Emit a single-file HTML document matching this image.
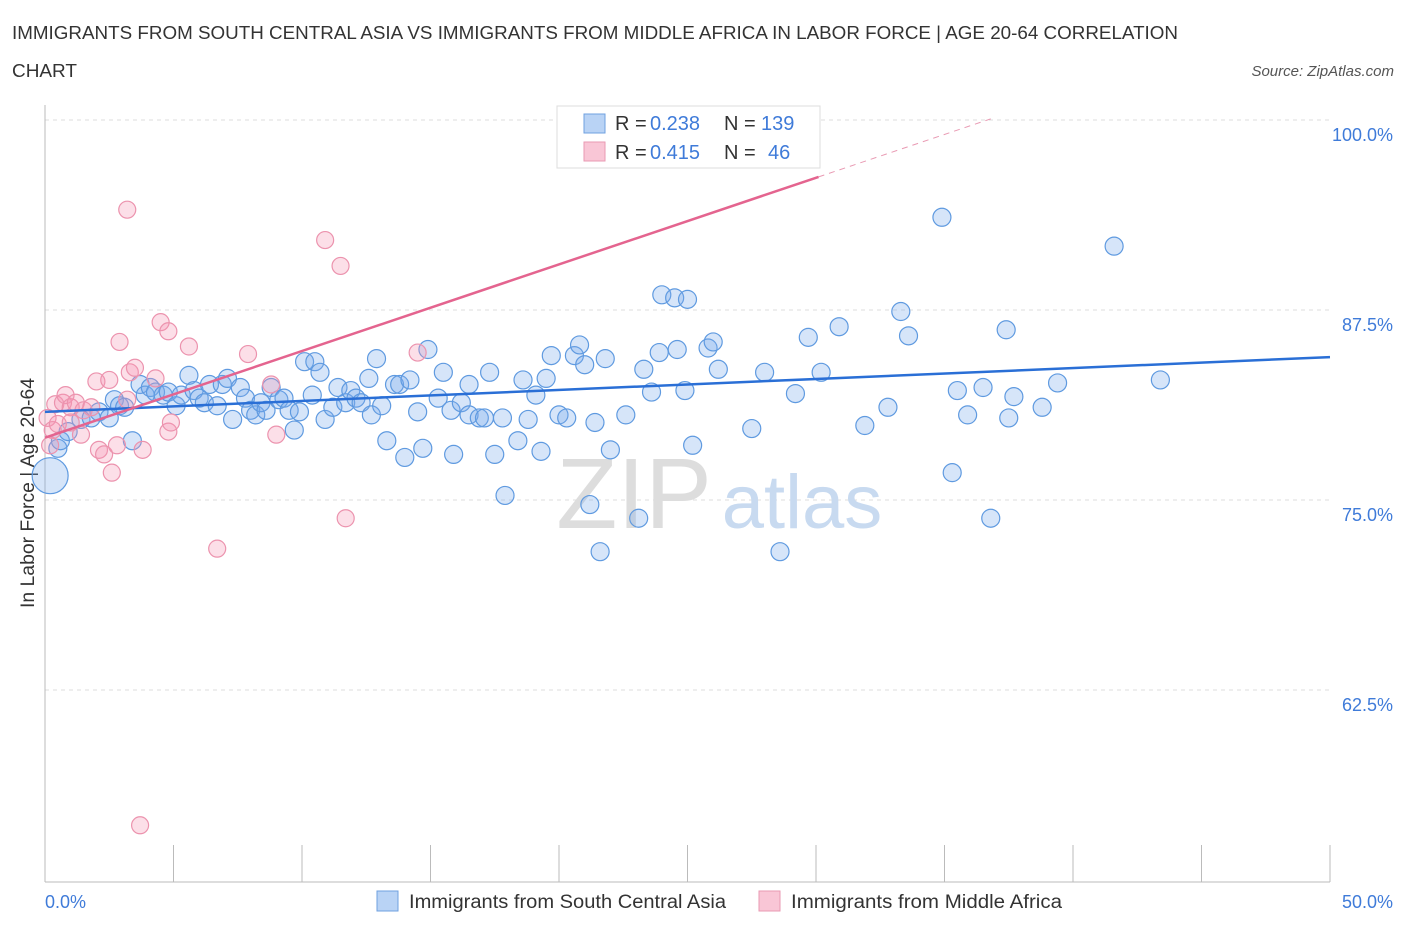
<!DOCTYPE html>
<html><head><meta charset="utf-8"><style>
body{margin:0;background:#fff;font-family:"Liberation Sans",sans-serif;}
svg text{font-family:"Liberation Sans",sans-serif;}
</style></head><body>
<svg id="chart" width="1406" height="930" xmlns="http://www.w3.org/2000/svg">
<text x="12" y="39" font-size="18" fill="#333" textLength="1166" lengthAdjust="spacingAndGlyphs">IMMIGRANTS FROM SOUTH CENTRAL ASIA VS IMMIGRANTS FROM MIDDLE AFRICA IN LABOR FORCE | AGE 20-64 CORRELATION</text>
<text x="12" y="77" font-size="18" fill="#333" textLength="65" lengthAdjust="spacingAndGlyphs">CHART</text>
<text x="1394" y="76" font-size="15" fill="#555" font-style="italic" text-anchor="end">Source: ZipAtlas.com</text>
<text x="34" y="493" font-size="19" fill="#333" text-anchor="middle" transform="rotate(-90 34 493)" textLength="230" lengthAdjust="spacingAndGlyphs">In Labor Force | Age 20-64</text>
<g id="grid"></g>
<g><text x="634" y="528" font-size="100" fill="#ddd" font-family="Liberation Serif" text-anchor="middle">ZIP</text><text x="802" y="528" font-size="76" fill="#c8daf0" text-anchor="middle">atlas</text></g>
<g id="marks"></g>
<g>
<rect x="557" y="106" width="263" height="62" fill="#fff" stroke="#ddd"/>
<rect x="584" y="114" width="21" height="19" fill="#b9d3f5" stroke="#6fa0e0"/>
<rect x="584" y="142" width="21" height="19" fill="#f9c6d6" stroke="#e99ab3"/>
<text x="615" y="130" font-size="20" fill="#333">R =</text><text x="650" y="130" font-size="20" fill="#3f7bd9">0.238</text>
<text x="724" y="130" font-size="20" fill="#333">N =</text><text x="761" y="130" font-size="20" fill="#3f7bd9">139</text>
<text x="615" y="159" font-size="20" fill="#333">R =</text><text x="650" y="159" font-size="20" fill="#3f7bd9">0.415</text>
<text x="724" y="159" font-size="20" fill="#333">N =</text><text x="768" y="159" font-size="20" fill="#3f7bd9">46</text>
</g>
<g>
<rect x="377" y="891" width="21" height="20" fill="#b9d3f5" stroke="#6fa0e0"/>
<text x="409" y="908" font-size="19" fill="#333" textLength="317" lengthAdjust="spacingAndGlyphs">Immigrants from South Central Asia</text>
<rect x="759" y="891" width="21" height="20" fill="#f9c6d6" stroke="#e99ab3"/>
<text x="791" y="908" font-size="19" fill="#333" textLength="271" lengthAdjust="spacingAndGlyphs">Immigrants from Middle Africa</text>
</g>
</svg>
<script>
const yTicks=[100,87.5,75,62.5];
const yTickLabels=["100.0%","87.5%","75.0%","62.5%"];
const xTickLabels=["0.0%","50.0%"];
const blueX=[0.2,0.5,0.6,0.9,1.4,1.8,2.1,2.5,2.7,2.9,3.1,3.4,3.7,3.9,4.1,4.3,4.6,4.8,5.1,5.3,5.6,5.8,6.0,6.2,6.4,6.7,6.9,7.1,7.3,7.6,7.8,8.0,8.2,8.4,8.6,8.8,9.1,9.3,9.5,9.7,9.9,10.1,10.4,10.5,10.7,10.9,11.2,11.4,11.7,11.9,12.1,12.3,12.6,12.7,12.9,13.1,13.3,13.6,13.8,14.0,14.2,14.5,14.7,14.9,15.3,15.5,15.8,15.9,16.2,16.5,16.5,16.9,17.1,17.3,17.5,17.8,17.9,18.4,18.6,18.8,19.1,19.3,19.5,19.7,20.0,20.3,20.6,20.8,21.0,21.2,21.4,21.6,21.8,22.0,22.6,23.1,23.3,23.6,23.9,24.0,24.5,24.6,24.9,25.0,25.2,25.8,26.0,26.2,27.5,28.0,28.6,29.2,29.7,30.2,30.9,31.9,32.8,33.3,33.6,34.9,35.3,35.5,35.9,36.5,36.8,37.4,37.5,37.7,38.8,39.4,41.6,43.4,29.5];
const blueY=[76.6,78.4,78.9,79.5,80.3,80.4,80.8,80.4,81.6,81.2,81.1,78.9,82.6,81.9,82.4,82.1,81.9,82.1,81.2,81.9,83.2,82.2,81.7,81.4,82.6,81.2,82.6,83.0,80.3,82.4,81.7,80.9,80.6,81.4,80.9,82.4,81.6,81.7,80.9,79.6,80.8,84.1,81.9,84.1,83.4,80.3,81.1,82.4,81.4,82.2,81.7,81.4,83.0,80.6,84.3,81.2,78.9,82.6,82.6,77.8,82.9,80.8,78.4,84.9,81.7,83.4,80.9,78.0,81.4,82.6,80.6,80.4,80.4,83.4,78.0,80.4,75.3,78.9,82.9,80.3,81.9,78.2,83.0,84.5,80.6,80.4,84.5,85.2,83.9,74.7,80.1,71.6,84.3,78.3,80.6,73.8,83.6,82.1,84.7,88.5,88.3,84.9,82.2,88.2,78.6,85.0,85.4,83.6,79.7,83.4,71.6,82.0,85.7,83.4,86.4,79.9,81.1,87.4,85.8,93.6,76.8,82.2,80.6,82.4,73.8,86.2,80.4,81.8,81.1,82.7,91.7,82.9,100.2];
const pinkX=[0.1,0.3,0.4,0.5,0.7,0.8,1.0,1.2,1.4,1.5,1.8,2.0,2.1,2.3,2.5,2.6,2.8,2.9,3.2,3.3,3.5,3.8,4.3,4.5,4.8,4.8,4.9,5.6,6.7,7.9,8.8,9.0,10.9,11.5,11.7,14.5,3.7,25.6,0.2,1.0,3.2];
const pinkY=[80.4,79.6,81.3,80.0,81.4,81.9,81.1,81.4,79.3,80.9,81.1,82.8,78.3,78.0,82.9,76.8,78.6,85.4,94.1,83.4,83.7,78.3,83.0,86.7,86.1,79.5,80.1,85.1,71.8,84.6,82.6,79.3,92.1,90.4,73.8,84.7,53.6,100.3,78.6,80.1,81.6];
const blueTrend=[80.8,84.4];
const pinkTrend=[79.1,0.57];
const NS="http://www.w3.org/2000/svg";
const X0=45,X1=1330,Y100=120,YSCALE=15.2;
function sx(v){return X0+v/50*(X1-X0);}
function sy(v){return Y100+(100-v)*YSCALE;}
function mk(t,a,p){const e=document.createElementNS(NS,t);for(const k in a)e.setAttribute(k,a[k]);p.appendChild(e);return e;}
const grid=document.getElementById('grid'),marks=document.getElementById('marks');
yTicks.forEach((t,i)=>{
 const l=mk('line',{x1:X0,x2:X1,y1:sy(t),y2:sy(t),stroke:'#ddd','stroke-dasharray':'4,4'},grid);
 
 
 const tx=mk('text',{x:1393,y:sy(t)+21,'font-size':18,fill:'#3f7bd9','text-anchor':'end'},grid);
 tx.textContent=yTickLabels[i];
 
 
});
const ax=mk('line',{x1:X0,x2:X0,y1:105,y2:882,stroke:'#bbb'},grid);


const bx=mk('line',{x1:X0,x2:X1,y1:882,y2:882,stroke:'#bbb'},grid);


for(let i=0;i<=10;i++){const x=X0+i*(X1-X0)/10;const t=mk('line',{x1:x,x2:x,y1:845,y2:882,stroke:'#bbb'},grid);
 
 }
[[0,'start',45],[50,'end',1393]].forEach((d,i)=>{const t=mk('text',{x:d[2],y:908,'font-size':18,fill:'#3f7bd9','text-anchor':d[1]},grid);t.textContent=xTickLabels[i];
 
 });
blueX.forEach((x,i)=>{const c=mk('circle',{cx:sx(x),cy:sy(blueY[i]),r:i===0?18:9,fill:'rgba(120,170,235,0.3)',stroke:'#5f9ae0','stroke-width':1.2},marks);
 
 });
pinkX.forEach((x,i)=>{const c=mk('circle',{cx:sx(x),cy:sy(pinkY[i]),r:8.5,fill:'rgba(245,150,180,0.3)',stroke:'#ec93ae','stroke-width':1.2},marks);
 
 });
const bl=mk('line',{x1:sx(0),y1:sy(blueTrend[0]),x2:sx(50),y2:sy(blueTrend[1]),stroke:'#2a6fd6','stroke-width':2.5},marks);


const pf=v=>pinkTrend[0]+pinkTrend[1]*v;
const pl=mk('line',{x1:sx(0),y1:sy(pf(0)),x2:sx(30.1),y2:sy(pf(30.1)),stroke:'#e4648f','stroke-width':2.5},marks);


const pd=mk('line',{x1:sx(30.1),y1:sy(pf(30.1)),x2:sx(36.8),y2:sy(pf(36.8)),stroke:'#e99ab3','stroke-width':1,'stroke-dasharray':'6,5'},marks);


</script>
</body></html>
